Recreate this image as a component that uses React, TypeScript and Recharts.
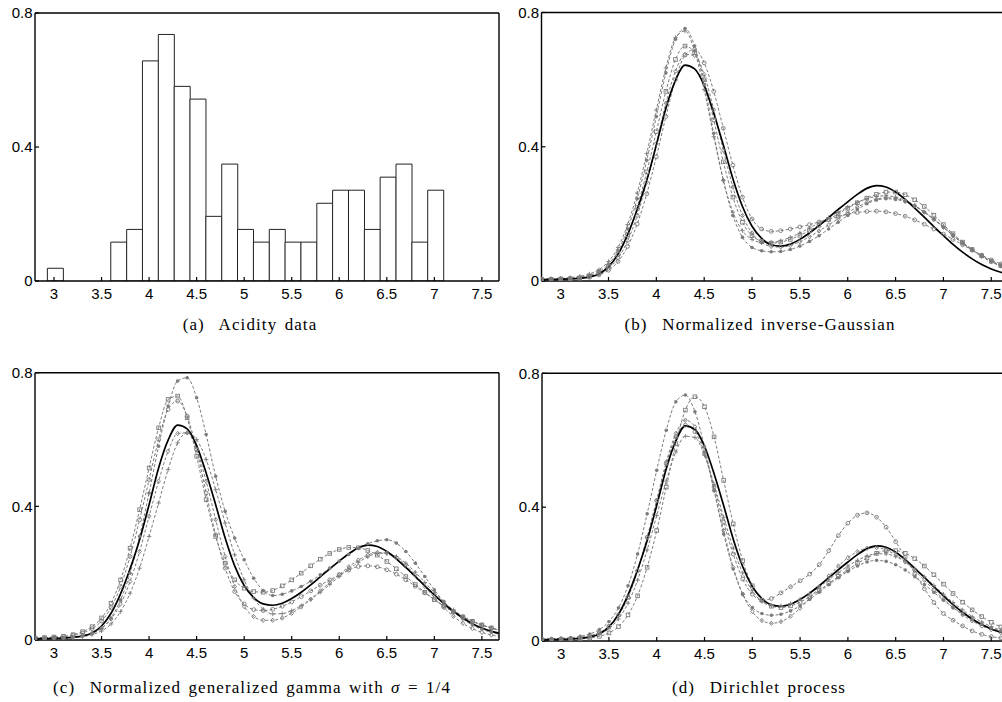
import { ComposedChart, Bar, LineChart, Line, XAxis, YAxis } from 'recharts'

// ---- data ----
const X_TICKS = [3, 3.5, 4, 4.5, 5, 5.5, 6, 6.5, 7, 7.5]
const Y_TICKS = [0, 0.4, 0.8]
const X_DOMAIN: [number, number] = [2.8, 7.68]
const Y_DOMAIN: [number, number] = [0, 0.8]

// histogram of the acidity data (bin centres and densities)
const binMids = [
  3.013, 3.18, 3.347, 3.513, 3.68, 3.847, 4.013, 4.18, 4.347, 4.513, 4.68, 4.847, 5.013,
  5.18, 5.347, 5.513, 5.68, 5.847, 6.013, 6.18, 6.347, 6.513, 6.68, 6.847, 7.013,
]
const binDensity = [
  0.038, 0, 0, 0, 0.116, 0.154, 0.657, 0.736, 0.581, 0.543, 0.193, 0.349, 0.154,
  0.116, 0.154, 0.116, 0.116, 0.232, 0.271, 0.271, 0.154, 0.31, 0.349, 0.116, 0.271,
]

// evaluation grid for the density curves
const gridX = [
  2.8, 2.9, 3, 3.1, 3.2, 3.3, 3.4, 3.5, 3.6, 3.7,
  3.8, 3.9, 4, 4.1, 4.2, 4.3, 4.4, 4.5, 4.6, 4.7,
  4.8, 4.9, 5, 5.1, 5.2, 5.3, 5.4, 5.5, 5.6, 5.7,
  5.8, 5.9, 6, 6.1, 6.2, 6.3, 6.4, 6.5, 6.6, 6.7,
  6.8, 6.9, 7, 7.1, 7.2, 7.3, 7.4, 7.5, 7.6, 7.7,
]

// solid black reference estimate (same in b, c, d)
const fitCurve = [
  0.004, 0.004, 0.005, 0.006, 0.008, 0.012, 0.021, 0.042, 0.08, 0.138,
  0.213, 0.3, 0.405, 0.515, 0.598, 0.643, 0.632, 0.582, 0.5, 0.405,
  0.305, 0.222, 0.163, 0.127, 0.108, 0.104, 0.11, 0.124, 0.143, 0.165,
  0.189, 0.213, 0.236, 0.258, 0.276, 0.284, 0.28, 0.265, 0.243, 0.217,
  0.19, 0.162, 0.135, 0.109, 0.086, 0.066, 0.049, 0.036, 0.026, 0.019,
]

// (b) normalized inverse-Gaussian
const ig1 = [
  0.006, 0.006, 0.007, 0.008, 0.011, 0.017, 0.028, 0.05, 0.09, 0.155,
  0.245, 0.36, 0.49, 0.62, 0.72, 0.752, 0.7, 0.585, 0.44, 0.3,
  0.195, 0.13, 0.1, 0.09, 0.087, 0.088, 0.094, 0.104, 0.118, 0.135,
  0.155, 0.175, 0.195, 0.213, 0.23, 0.241, 0.245, 0.243, 0.236, 0.223,
  0.205, 0.185, 0.16, 0.135, 0.112, 0.092, 0.074, 0.059, 0.046, 0.036,
]
const ig2 = [
  0.005, 0.005, 0.006, 0.007, 0.009, 0.014, 0.024, 0.044, 0.08, 0.138,
  0.22, 0.325, 0.445, 0.565, 0.66, 0.7, 0.68, 0.6, 0.48, 0.355,
  0.25, 0.175, 0.135, 0.118, 0.113, 0.116, 0.124, 0.136, 0.15, 0.166,
  0.183, 0.2, 0.217, 0.233, 0.247, 0.258, 0.265, 0.265, 0.257, 0.242,
  0.222, 0.196, 0.168, 0.141, 0.116, 0.094, 0.075, 0.059, 0.046, 0.036,
]
const ig3 = [
  0.004, 0.004, 0.005, 0.006, 0.008, 0.011, 0.018, 0.032, 0.058, 0.103,
  0.17, 0.26, 0.37, 0.49, 0.6, 0.673, 0.69, 0.65, 0.565, 0.455,
  0.345, 0.25, 0.185, 0.155, 0.148, 0.15, 0.155, 0.161, 0.168, 0.176,
  0.184, 0.192, 0.199, 0.204, 0.207, 0.208, 0.206, 0.201, 0.193, 0.182,
  0.169, 0.155, 0.14, 0.124, 0.108, 0.092, 0.077, 0.063, 0.051, 0.041,
]
const ig4 = [
  0.006, 0.007, 0.008, 0.01, 0.014, 0.021, 0.034, 0.058, 0.1, 0.168,
  0.262, 0.38, 0.51, 0.635, 0.725, 0.745, 0.685, 0.57, 0.43, 0.3,
  0.205, 0.15, 0.124, 0.115, 0.115, 0.12, 0.13, 0.143, 0.158, 0.173,
  0.189, 0.205, 0.22, 0.234, 0.245, 0.252, 0.254, 0.25, 0.24, 0.225,
  0.206, 0.185, 0.162, 0.137, 0.113, 0.092, 0.073, 0.057, 0.044, 0.034,
]
const ig5 = [
  0.005, 0.005, 0.006, 0.007, 0.009, 0.013, 0.021, 0.037, 0.068, 0.12,
  0.195, 0.295, 0.41, 0.53, 0.625, 0.675, 0.672, 0.615, 0.51, 0.39,
  0.28, 0.195, 0.143, 0.115, 0.103, 0.101, 0.106, 0.117, 0.132, 0.149,
  0.167, 0.186, 0.204, 0.22, 0.234, 0.244, 0.248, 0.246, 0.238, 0.224,
  0.205, 0.183, 0.16, 0.137, 0.114, 0.093, 0.075, 0.059, 0.046, 0.035,
]

// (c) normalized generalized gamma, sigma = 1/4
const gg1 = [
  0.004, 0.005, 0.006, 0.007, 0.009, 0.013, 0.02, 0.035, 0.066, 0.12,
  0.2, 0.31, 0.44, 0.58, 0.7, 0.775, 0.785, 0.725, 0.615, 0.49,
  0.385, 0.305, 0.24, 0.185, 0.148, 0.133, 0.137, 0.147, 0.16, 0.176,
  0.195, 0.215, 0.236, 0.256, 0.274, 0.288, 0.297, 0.3, 0.29, 0.265,
  0.23, 0.19, 0.15, 0.115, 0.086, 0.063, 0.045, 0.032, 0.023, 0.016,
]
const gg2 = [
  0.006, 0.007, 0.009, 0.011, 0.016, 0.025, 0.04, 0.066, 0.11, 0.18,
  0.275, 0.39, 0.515, 0.635, 0.72, 0.73, 0.665, 0.55, 0.42, 0.31,
  0.23, 0.18, 0.155, 0.145, 0.143, 0.148, 0.162, 0.18, 0.2, 0.222,
  0.242, 0.259, 0.271, 0.277, 0.276, 0.268, 0.254, 0.235, 0.213, 0.19,
  0.166, 0.143, 0.121, 0.101, 0.084, 0.069, 0.056, 0.045, 0.036, 0.029,
]
const gg3 = [
  0.006, 0.007, 0.008, 0.01, 0.014, 0.021, 0.034, 0.057, 0.097, 0.16,
  0.25, 0.36, 0.48, 0.6, 0.69, 0.715, 0.67, 0.57, 0.44, 0.315,
  0.215, 0.145, 0.108, 0.091, 0.088, 0.092, 0.101, 0.114, 0.13, 0.147,
  0.164, 0.18, 0.195, 0.209, 0.22, 0.222, 0.219, 0.21, 0.197, 0.18,
  0.161, 0.141, 0.121, 0.102, 0.085, 0.069, 0.056, 0.045, 0.036, 0.028,
]
const gg4 = [
  0.003, 0.004, 0.004, 0.005, 0.007, 0.01, 0.016, 0.027, 0.048, 0.085,
  0.14, 0.215, 0.31, 0.41, 0.51, 0.59, 0.62, 0.6, 0.54, 0.45,
  0.35, 0.255, 0.18, 0.125, 0.092, 0.078, 0.079, 0.088, 0.103, 0.122,
  0.143, 0.166, 0.19, 0.212, 0.232, 0.249, 0.259, 0.26, 0.25, 0.23,
  0.203, 0.172, 0.142, 0.114, 0.09, 0.071, 0.056, 0.045, 0.036, 0.028,
]
const gg5 = [
  0.004, 0.004, 0.005, 0.006, 0.008, 0.012, 0.02, 0.035, 0.063, 0.108,
  0.175, 0.265, 0.37, 0.475, 0.565, 0.618, 0.62, 0.57, 0.475, 0.36,
  0.25, 0.16, 0.1, 0.07, 0.059, 0.059, 0.066, 0.08, 0.099, 0.122,
  0.147, 0.172, 0.196, 0.219, 0.239, 0.254, 0.262, 0.26, 0.247, 0.224,
  0.194, 0.16, 0.127, 0.097, 0.071, 0.05, 0.034, 0.023, 0.015, 0.01,
]

// (d) Dirichlet process
const dp1 = [
  0.006, 0.007, 0.008, 0.01, 0.014, 0.021, 0.034, 0.058, 0.099, 0.165,
  0.26, 0.38, 0.51, 0.63, 0.715, 0.735, 0.685, 0.58, 0.45, 0.32,
  0.215, 0.14, 0.1, 0.082, 0.077, 0.08, 0.09, 0.105, 0.124, 0.146,
  0.168, 0.189, 0.208, 0.224, 0.236, 0.241, 0.238, 0.228, 0.212, 0.192,
  0.169, 0.145, 0.122, 0.1, 0.081, 0.064, 0.05, 0.039, 0.03, 0.023,
]
const dp2 = [
  0.003, 0.003, 0.004, 0.005, 0.006, 0.009, 0.014, 0.024, 0.043, 0.078,
  0.135, 0.22, 0.33, 0.46, 0.59, 0.69, 0.73, 0.7, 0.61, 0.48,
  0.35, 0.24, 0.165, 0.122, 0.104, 0.1, 0.105, 0.116, 0.132, 0.151,
  0.172, 0.193, 0.213, 0.232, 0.248, 0.262, 0.27, 0.27, 0.262, 0.246,
  0.224, 0.198, 0.17, 0.142, 0.116, 0.093, 0.073, 0.056, 0.042, 0.031,
]
const dp3 = [
  0.005, 0.005, 0.006, 0.007, 0.01, 0.015, 0.025, 0.044, 0.078, 0.132,
  0.21, 0.31, 0.42, 0.53, 0.61, 0.645, 0.625, 0.56, 0.46, 0.355,
  0.26, 0.185, 0.14, 0.122, 0.127, 0.144, 0.162, 0.18, 0.2, 0.228,
  0.27, 0.315, 0.352, 0.376, 0.383, 0.37, 0.34, 0.297, 0.25, 0.202,
  0.156, 0.115, 0.082, 0.062, 0.045, 0.03, 0.02, 0.013, 0.009, 0.006,
]
const dp4 = [
  0.004, 0.004, 0.005, 0.006, 0.008, 0.012, 0.021, 0.037, 0.066, 0.113,
  0.182, 0.272, 0.375, 0.478, 0.565, 0.612, 0.608, 0.555, 0.468, 0.37,
  0.278, 0.203, 0.15, 0.118, 0.106, 0.105, 0.112, 0.125, 0.142, 0.162,
  0.183, 0.204, 0.224, 0.241, 0.254, 0.261, 0.26, 0.252, 0.237, 0.216,
  0.192, 0.166, 0.14, 0.115, 0.093, 0.073, 0.057, 0.043, 0.032, 0.024,
]
const dp5 = [
  0.004, 0.005, 0.006, 0.007, 0.01, 0.015, 0.025, 0.043, 0.076, 0.13,
  0.21, 0.31, 0.42, 0.535, 0.62, 0.66, 0.64, 0.565, 0.45, 0.33,
  0.22, 0.14, 0.088, 0.061, 0.053, 0.058, 0.074, 0.098, 0.128, 0.161,
  0.194, 0.224, 0.249, 0.267, 0.277, 0.279, 0.272, 0.257, 0.236, 0.21,
  0.182, 0.153, 0.125, 0.1, 0.078, 0.06, 0.045, 0.034, 0.025, 0.018,
]

const MARKERS = ['dot', 'square', 'diamond', 'plus', 'cross']

// ---- styling ----
const GREY = '#7c7c7c'
const AXIS_LINE = { stroke: '#000', strokeWidth: 1.4 }
const TICK_LINE = { stroke: '#000', strokeWidth: 1.2 }
const TICK_STYLE = { fill: '#000', fontSize: 15, fontFamily: '"Liberation Sans", Arial, sans-serif' }
const CAPTION_STYLE: React.CSSProperties = {
  position: 'absolute',
  textAlign: 'center',
  fontFamily: '"Liberation Serif", "Times New Roman", serif',
  fontSize: 17,
  letterSpacing: 1.1,
  wordSpacing: 2,
  color: '#000',
  whiteSpace: 'pre',
}

const histTable = binMids.map((x, i) => ({ x, density: binDensity[i] }))

function curveTable(series: number[][]) {
  return gridX.map((x, i) => {
    const row: Record<string, number> = { x, fit: fitCurve[i] }
    series.forEach((s, j) => {
      row['s' + j] = s[i]
    })
    return row
  })
}

function markerDot(kind: string) {
  return (props: any) => {
    const { cx, cy, index } = props
    const key = `${kind}-${index}`
    if (cx == null || cy == null) return <g key={key} />
    const sw = 0.9
    switch (kind) {
      case 'dot':
        return <circle key={key} cx={cx} cy={cy} r={1.8} fill={GREY} />
      case 'square':
        return <rect key={key} x={cx - 1.8} y={cy - 1.8} width={3.6} height={3.6} fill="none" stroke={GREY} strokeWidth={sw} />
      case 'diamond':
        return <circle key={key} cx={cx} cy={cy} r={1.9} fill="none" stroke={GREY} strokeWidth={sw} />
      case 'plus':
        return <path key={key} d={`M${cx - 2.2},${cy}H${cx + 2.2}M${cx},${cy - 2.2}V${cy + 2.2}`} stroke={GREY} strokeWidth={sw} />
      default:
        return (
          <path key={key} d={`M${cx},${cy - 2.2}L${cx + 1.8},${cy}L${cx},${cy + 2.2}L${cx - 1.8},${cy}Z`} fill="none" stroke={GREY} strokeWidth={sw} />
        )
    }
  }
}

// box with inward ticks on all four sides
// (top and right axes need a size of 1px, a zero-sized axis is not drawn)
function frameAxes(yWidth: number) {
  return [
    <XAxis
      key="xb"
      type="number"
      dataKey="x"
      domain={X_DOMAIN}
      allowDataOverflow
      ticks={X_TICKS}
      interval={0}
      height={30}
      tickSize={-4}
      tickMargin={11}
      tick={TICK_STYLE}
      axisLine={AXIS_LINE}
      tickLine={TICK_LINE}
    />,
    <XAxis
      key="xt"
      xAxisId="top"
      orientation="top"
      type="number"
      dataKey="x"
      domain={X_DOMAIN}
      allowDataOverflow
      ticks={X_TICKS}
      interval={0}
      height={1}
      tickSize={-4}
      tick={false}
      axisLine={AXIS_LINE}
      tickLine={TICK_LINE}
    />,
    <YAxis
      key="yl"
      type="number"
      domain={Y_DOMAIN}
      allowDataOverflow
      ticks={Y_TICKS}
      interval={0}
      width={yWidth}
      tickSize={-4}
      tickMargin={6.5}
      tick={TICK_STYLE}
      axisLine={AXIS_LINE}
      tickLine={TICK_LINE}
    />,
    <YAxis
      key="yr"
      yAxisId="right"
      orientation="right"
      type="number"
      domain={Y_DOMAIN}
      allowDataOverflow
      ticks={Y_TICKS}
      interval={0}
      width={1}
      tickSize={-4}
      tick={false}
      axisLine={AXIS_LINE}
      tickLine={TICK_LINE}
    />,
  ]
}

// an invisible series that ties the top and right frame axes to the data
function frameSeries(dataKey: string) {
  return (
    <Line
      key="frame"
      xAxisId="top"
      yAxisId="right"
      dataKey={dataKey}
      stroke="none"
      dot={false}
      activeDot={false}
      legendType="none"
      isAnimationActive={false}
    />
  )
}

function DensityPanel({
  series,
  width,
  height,
  top,
  right,
  yWidth,
}: {
  series: number[][]
  width: number
  height: number
  top: number
  right: number
  yWidth: number
}) {
  const data = curveTable(series)
  return (
    <LineChart width={width} height={height} data={data} margin={{ top, right, left: 0, bottom: 0 }}>
      {frameAxes(yWidth)}
      {frameSeries('fit')}
      {series.map((_, j) => (
        <Line
          key={j}
          dataKey={'s' + j}
          type="monotone"
          stroke={GREY}
          strokeWidth={1}
          strokeDasharray="3 2"
          dot={markerDot(MARKERS[j])}
          activeDot={false}
          isAnimationActive={false}
        />
      ))}
      <Line dataKey="fit" type="monotone" stroke="#000" strokeWidth={1.7} dot={false} activeDot={false} isAnimationActive={false} />
    </LineChart>
  )
}

export default function App() {
  return (
    <div
      style={{
        position: 'absolute',
        left: 0,
        top: 0,
        width: 1002,
        height: 702,
        overflow: 'hidden',
        background: '#fff',
      }}
    >
      {/* (a) histogram */}
      <div style={{ position: 'absolute', left: 0, top: 0 }}>
        <ComposedChart width={500} height={311} data={histTable} barCategoryGap={0} margin={{ top: 12, right: 0, left: 0, bottom: 0 }}>
          {frameAxes(35)}
          {frameSeries('density')}
          <Bar dataKey="density" fill="#fff" stroke="#222" strokeWidth={1} isAnimationActive={false} />
        </ComposedChart>
      </div>
      <div style={{ ...CAPTION_STYLE, left: 0, width: 500, top: 315 }}>(a)  Acidity data</div>

      {/* (b) */}
      <div style={{ position: 'absolute', left: 500, top: 0 }}>
        <DensityPanel series={[ig1, ig2, ig3, ig4, ig5]} width={510} height={311} top={11.5} right={0.5} yWidth={41.5} />
      </div>
      <div style={{ ...CAPTION_STYLE, left: 500, width: 520, top: 315 }}>(b)  Normalized inverse-Gaussian</div>

      {/* (c) */}
      <div style={{ position: 'absolute', left: 0, top: 360 }}>
        <DensityPanel series={[gg1, gg2, gg3, gg4, gg5]} width={500} height={310} top={11.7} right={0} yWidth={35} />
      </div>
      <div style={{ ...CAPTION_STYLE, left: 0, width: 504, top: 678 }}>
        (c)  Normalized generalized gamma with <i>σ</i> = 1/4
      </div>

      {/* (d) */}
      <div style={{ position: 'absolute', left: 500, top: 360 }}>
        <DensityPanel series={[dp1, dp2, dp3, dp4, dp5]} width={510} height={311} top={12.3} right={0.5} yWidth={42} />
      </div>
      <div style={{ ...CAPTION_STYLE, left: 500, width: 518, top: 678 }}>(d)  Dirichlet process</div>
    </div>
  )
}
